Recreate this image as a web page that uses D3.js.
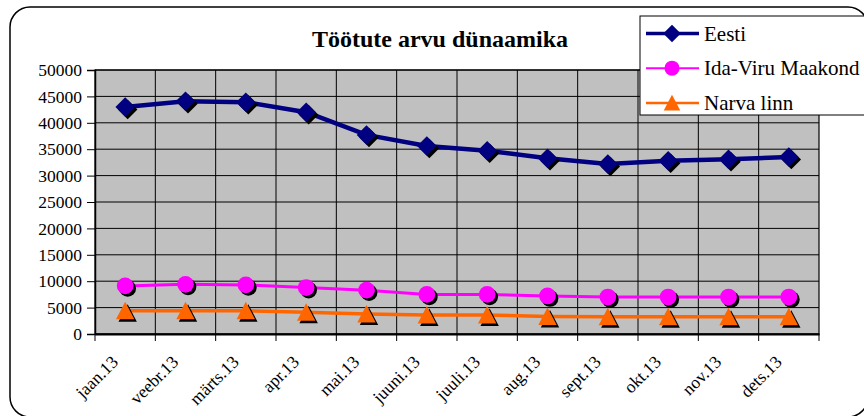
<!DOCTYPE html>
<html><head><meta charset="utf-8">
<script src="https://cdn.jsdelivr.net/npm/d3@7"></script>
<style>body{margin:0;background:#fff}svg{display:block}</style>
</head><body>
<svg id="c" width="864" height="416"></svg>
<script>
const categories = ["jaan.13","veebr.13","märts.13","apr.13","mai.13","juuni.13","juuli.13","aug.13","sept.13","okt.13","nov.13","dets.13"];
const eesti = [43000,44100,43900,42000,37700,35600,34700,33300,32200,32800,33100,33500];
const idaViru = [9100,9400,9300,8800,8300,7500,7500,7200,7000,7000,7000,7000];
const narva = [4400,4400,4400,4100,3800,3600,3600,3300,3250,3250,3250,3250];
const yTicks = [0,5000,10000,15000,20000,25000,30000,35000,40000,45000,50000];
const seriesNames = ["Eesti","Ida-Viru Maakond","Narva linn"];
const title = "Töötute arvu dünaamika";
const FONT = '"Liberation Serif"';

const svg = d3.select("#c");
const L = 95, R = 819, T = 70, B = 334;

// outer frame (shadow visible only at bottom-right corner)
svg.append("defs").append("clipPath").attr("id","cc").append("rect").attr("x",840).attr("y",380).attr("width",40).attr("height",40);
svg.append("rect").attr("x",14).attr("y",11).attr("width",856).attr("height",402).attr("rx",22)
  .attr("fill","#000").attr("clip-path","url(#cc)");
svg.append("rect").attr("x",10).attr("y",7).attr("width",858).attr("height",410).attr("rx",20)
  .attr("fill","#fff").attr("stroke","#000").attr("stroke-width",1.5);

const x = d3.scaleBand().domain(categories).range([L,R]).padding(0);
const y = d3.scaleLinear().domain([0,50000]).range([B,T]);

svg.append("rect").attr("x",L).attr("y",T).attr("width",R-L).attr("height",B-T).attr("fill","#c0c0c0");

// grid
svg.append("g").selectAll("line").data(yTicks).join("line")
  .attr("x1",L).attr("x2",R).attr("y1",d=>y(d)).attr("y2",d=>y(d)).attr("stroke","#000").attr("stroke-width",1);
svg.append("g").selectAll("line").data(categories.slice(1)).join("line")
  .attr("x1",d=>x(d)).attr("x2",d=>x(d)).attr("y1",T).attr("y2",B).attr("stroke","#000").attr("stroke-width",1);
svg.append("rect").attr("x",L).attr("y",T).attr("width",R-L).attr("height",B-T).attr("fill","none").attr("stroke","#000").attr("stroke-width",1.2);

// y axis
const ya = svg.append("g").attr("transform",`translate(${L},0)`)
  .call(d3.axisLeft(y).tickValues(yTicks).tickSize(8).tickPadding(5).tickFormat(d3.format("d")));
ya.select(".domain").attr("stroke","#000").attr("stroke-width",1.5);
ya.selectAll("text").attr("fill","#000").style("font-family",FONT).style("font-size","17.5px");
ya.selectAll(".tick line").attr("stroke","#000");

// x axis
const xa = svg.append("g").attr("transform",`translate(0,${B})`)
  .call(d3.axisBottom(x).tickSize(0).tickFormat(""));
xa.select(".domain").attr("stroke","#000").attr("stroke-width",2);
svg.append("g").selectAll("line").data(categories.concat(["end"])).join("line")
  .attr("x1",(d,i)=>L+i*x.step()).attr("x2",(d,i)=>L+i*x.step()).attr("y1",B).attr("y2",B+7).attr("stroke","#000");
svg.append("g").selectAll("text").data(categories).join("text")
  .attr("transform",d=>`translate(${x(d)+x.bandwidth()/2-6},${B+29}) rotate(-45)`)
  .attr("text-anchor","end").attr("fill","#000").style("font-family",FONT).style("font-size","17.5px").text(d=>d);

// title
svg.append("text").attr("x",440).attr("y",47).attr("text-anchor","middle")
  .attr("font-weight","bold").style("font-family",FONT).style("font-size","24px").text(title);

const cx = d => x(d)+x.bandwidth()/2;
const triPath = "M0,-9L9.2,8.5L-9.2,8.5Z";
const series = [
  {name:seriesNames[0], values:eesti, color:"#000080", width:4.5, sym:d3.symbol().type(d3.symbolSquare).size(190), rot:45},
  {name:seriesNames[1], values:idaViru, color:"#ff00ff", width:3, sym:d3.symbol().type(d3.symbolCircle).size(220), rot:0},
  {name:seriesNames[2], values:narva, color:"#ff6600", width:3.5, sym:()=>triPath, rot:0}
];
const line = d3.line().x((d,i)=>cx(categories[i])).y(d=>y(d));
series.forEach(s=>{
  svg.append("path").datum(s.values).attr("d",line).attr("fill","none").attr("stroke",s.color).attr("stroke-width",s.width);
});
series.forEach(s=>{
  const g = svg.append("g");
  g.selectAll(".sh").data(s.values).join("path").attr("d",s.sym)
    .attr("transform",(d,i)=>`translate(${cx(categories[i])+2.5},${y(d)+2.5}) rotate(${s.rot})`).attr("fill","#000");
  g.selectAll(".mk").data(s.values).join("path").attr("d",s.sym)
    .attr("transform",(d,i)=>`translate(${cx(categories[i])},${y(d)}) rotate(${s.rot})`).attr("fill",s.color);
});

// legend
const lg = svg.append("g");
lg.append("rect").attr("x",640).attr("y",16).attr("width",240).attr("height",99).attr("fill","#fff").attr("stroke","#000").attr("stroke-width",1);
series.forEach((s,i)=>{
  const yy = 33.5 + i*34.7;
  lg.append("line").attr("x1",646).attr("x2",699).attr("y1",yy).attr("y2",yy).attr("stroke",s.color).attr("stroke-width",s.width-1);
  lg.append("path").attr("d",s.sym).attr("transform",`translate(672,${yy}) rotate(${s.rot}) scale(0.9)`).attr("fill",s.color);
  lg.append("text").attr("x",704).attr("y",yy+7).attr("fill","#000").style("font-family",FONT).style("font-size","21px").text(s.name);
});
</script>
</body></html>
